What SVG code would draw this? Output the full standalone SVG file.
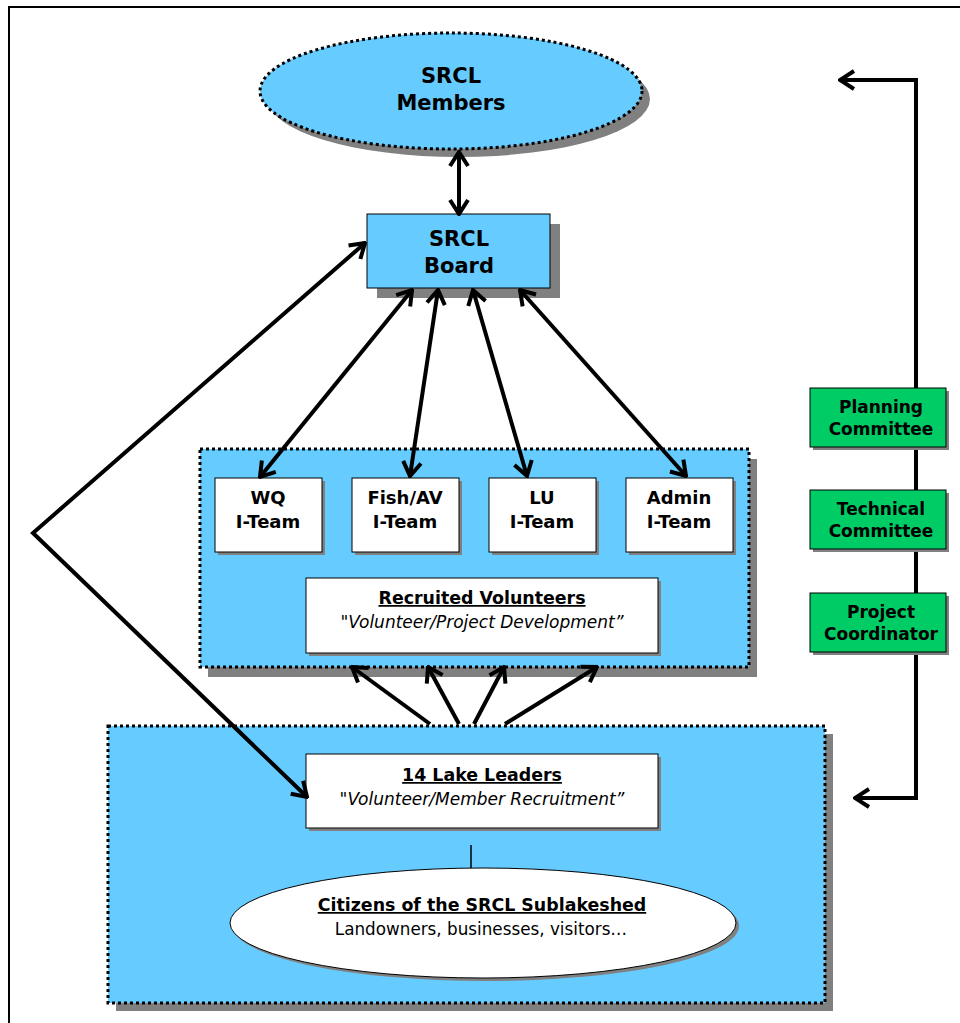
<svg xmlns="http://www.w3.org/2000/svg" width="960" height="1023" viewBox="0 0 960 1023">
<style>
.b{font-family:"DejaVu Sans",Verdana,sans-serif;font-weight:bold;fill:#000;text-anchor:middle}
.i{font-family:"DejaVu Sans",Verdana,sans-serif;font-style:italic;fill:#000;text-anchor:middle}
.r{font-family:"DejaVu Sans",Verdana,sans-serif;fill:#000;text-anchor:middle}
.sh{fill:#808080}
.dot{stroke:#000;stroke-width:3;stroke-dasharray:3 3}
.box{fill:#fff;stroke:#000;stroke-width:1}
.blue{fill:#66CCFF}
.green{fill:#00CC66;stroke:#000;stroke-width:1}
.c{fill:none;stroke:#000;stroke-width:4}
</style>
<defs>
<marker id="ah" viewBox="-18 -11 20 22" refX="0" refY="0" markerWidth="20" markerHeight="22" markerUnits="userSpaceOnUse" orient="auto-start-reverse">
<path d="M-14,-9 L0,0 L-14,9" fill="none" stroke="#000" stroke-width="4"/>
</marker>
</defs>
<rect x="0" y="0" width="960" height="1023" fill="#fff"/>
<rect x="9" y="7" width="980" height="1040" fill="none" stroke="#000" stroke-width="2"/>

<g id="lower-container">
<rect class="sh" x="116" y="734" width="717" height="277"/>
<rect class="blue dot" x="108" y="726" width="717" height="277"/>
</g>
<g id="middle-container">
<rect class="sh" x="208" y="459" width="549" height="218"/>
<rect class="blue dot" x="200" y="449" width="549" height="218"/>
</g>

<g id="members">
<ellipse class="sh" cx="459" cy="99" rx="191" ry="58"/>
<ellipse class="blue dot" cx="451" cy="91" rx="191" ry="58"/>
<text class="b" x="451" y="83" font-size="21">SRCL</text>
<text class="b" x="451" y="110" font-size="21">Members</text>
</g>

<g id="board">
<rect class="sh" x="377" y="224" width="183" height="74"/>
<rect class="blue" x="367" y="214" width="183" height="74" stroke="#000" stroke-width="1"/>
<text class="b" x="459" y="246" font-size="21">SRCL</text>
<text class="b" x="459" y="273" font-size="21">Board</text>
</g>

<g id="wq">
<rect class="sh" x="218" y="481" width="107" height="74"/>
<rect class="box" x="215" y="478" width="107" height="74"/>
<text class="b" x="268" y="504" font-size="18">WQ</text>
<text class="b" x="268" y="528" font-size="18">I-Team</text>
</g>
<g id="fishav">
<rect class="sh" x="355" y="481" width="107" height="74"/>
<rect class="box" x="352" y="478" width="107" height="74"/>
<text class="b" x="405" y="504" font-size="18">Fish/AV</text>
<text class="b" x="405" y="528" font-size="18">I-Team</text>
</g>
<g id="lu">
<rect class="sh" x="492" y="481" width="107" height="74"/>
<rect class="box" x="489" y="478" width="107" height="74"/>
<text class="b" x="542" y="504" font-size="18">LU</text>
<text class="b" x="542" y="528" font-size="18">I-Team</text>
</g>
<g id="admin">
<rect class="sh" x="629" y="481" width="107" height="74"/>
<rect class="box" x="626" y="478" width="107" height="74"/>
<text class="b" x="679" y="504" font-size="18">Admin</text>
<text class="b" x="679" y="528" font-size="18">I-Team</text>
</g>

<g id="recruited">
<rect class="sh" x="309" y="581" width="352" height="75"/>
<rect class="box" x="306" y="578" width="352" height="75"/>
<text class="b" x="482" y="604" font-size="17.4" text-decoration="underline">Recruited Volunteers</text>
<text class="i" x="482" y="628" font-size="17">"Volunteer/Project Development”</text>
</g>

<g id="leaders">
<rect class="sh" x="309" y="757" width="352" height="74"/>
<rect class="box" x="306" y="754" width="352" height="74"/>
<text class="b" x="482" y="781" font-size="17.4" text-decoration="underline">14 Lake Leaders</text>
<text class="i" x="482" y="805" font-size="17">"Volunteer/Member Recruitment”</text>
</g>

<g id="citizens">
<ellipse class="sh" cx="486" cy="926" rx="253" ry="55"/>
<ellipse class="box" cx="483" cy="923" rx="253" ry="55"/>
<text class="b" x="482" y="911" font-size="17.4" text-decoration="underline">Citizens of the SRCL Sublakeshed</text>
<text class="r" x="481" y="935" font-size="16.8">Landowners, businesses, visitors…</text>
</g>

<g id="connectors">
<line class="c" x1="459" y1="152" x2="459" y2="214" marker-start="url(#ah)" marker-end="url(#ah)"/>
<line class="c" x1="412" y1="290" x2="260" y2="477" marker-start="url(#ah)" marker-end="url(#ah)"/>
<line class="c" x1="438" y1="290" x2="410" y2="476" marker-start="url(#ah)" marker-end="url(#ah)"/>
<line class="c" x1="473" y1="290" x2="527" y2="476" marker-start="url(#ah)" marker-end="url(#ah)"/>
<line class="c" x1="520" y1="290" x2="686" y2="476" marker-start="url(#ah)" marker-end="url(#ah)"/>
<polyline class="c" points="365,243 33,533 307,797" marker-start="url(#ah)" marker-end="url(#ah)"/>
<line class="c" x1="430" y1="724" x2="352" y2="667" marker-end="url(#ah)"/>
<line class="c" x1="459" y1="724" x2="428" y2="667" marker-end="url(#ah)"/>
<line class="c" x1="474" y1="724" x2="504" y2="667" marker-end="url(#ah)"/>
<line class="c" x1="505" y1="724" x2="597" y2="667" marker-end="url(#ah)"/>
<line x1="471" y1="845" x2="471" y2="868" stroke="#000" stroke-width="1.5"/>
<polyline class="c" points="840,80 916,80 916,798 855,798" marker-start="url(#ah)" marker-end="url(#ah)"/>
</g>

<g id="planning">
<rect class="sh" x="813" y="391" width="136" height="59"/>
<rect class="green" x="810" y="388" width="136" height="59"/>
<text class="b" x="881" y="413" font-size="17">Planning</text>
<text class="b" x="881" y="435" font-size="17">Committee</text>
</g>
<g id="technical">
<rect class="sh" x="813" y="493" width="136" height="59"/>
<rect class="green" x="810" y="490" width="136" height="59"/>
<text class="b" x="881" y="515" font-size="17">Technical</text>
<text class="b" x="881" y="537" font-size="17">Committee</text>
</g>
<g id="coordinator">
<rect class="sh" x="813" y="596" width="136" height="59"/>
<rect class="green" x="810" y="593" width="136" height="59"/>
<text class="b" x="881" y="618" font-size="17">Project</text>
<text class="b" x="881" y="640" font-size="17">Coordinator</text>
</g>
</svg>
